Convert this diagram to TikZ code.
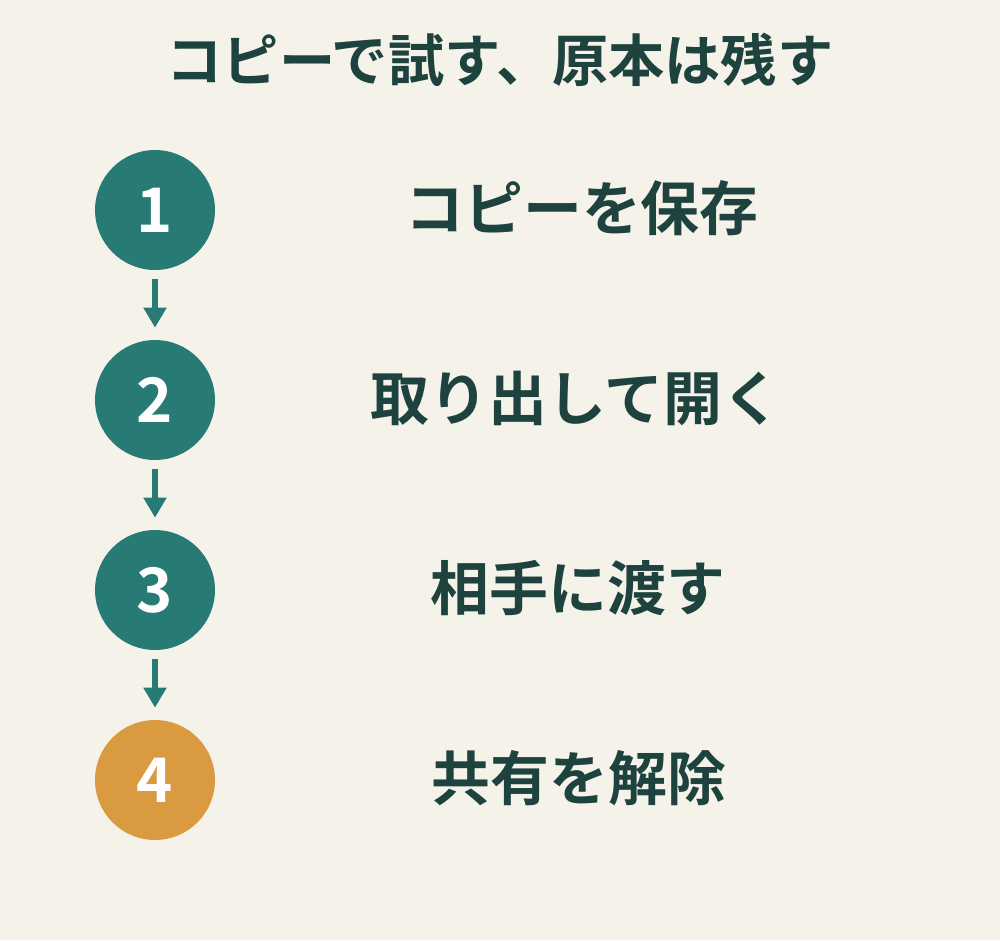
\documentclass[tikz,border=0pt]{standalone}
\usepackage{fontspec}
\usepackage{tikz}
\usepackage{xcolor}
\usetikzlibrary{positioning, arrows.meta}
\newfontfamily\jpfont{Noto Sans CJK JP}[BoldFont={* Bold}]

\definecolor{bgcol}{HTML}{F5F2EA}
\definecolor{tealcol}{HTML}{277B74}
\definecolor{ambercol}{HTML}{D99A40}
\definecolor{inkcol}{HTML}{1E423E}

\tikzset{
  stepdot/.style={circle, fill=tealcol, minimum size=2.4cm, inner sep=0pt, text=white,
    font=\jpfont\bfseries\fontsize{35}{40}\selectfont},
  steptext/.style={text=inkcol, font=\jpfont\bfseries\fontsize{33.5}{38}\selectfont},
  flow/.style={draw=tealcol, line width=0.12cm, -{Triangle[width=0.44cm, length=0.4cm]},
    shorten <=0.18cm, shorten >=0.24cm}
}

\begin{document}
\begin{tikzpicture}[x=0.02cm, y=-0.02cm]
                \fill[bgcol] (0, 0) rectangle (1000, 940);
                \useasboundingbox (0, 0) rectangle (1000, 940);

                \node[text=inkcol, font=\jpfont\bfseries\fontsize{32}{36}\selectfont] (title) at (500, 60) {コピーで試す、原本は残す};

                \node[stepdot] (s1) at (155, 210) {1};
                \node[stepdot] (s2) at (155, 400) {2};
                \node[stepdot] (s3) at (155, 590) {3};
                \node[stepdot, fill=ambercol] (s4) at (155, 780) {4};

                \node[steptext] (t1) at (582, 208) {コピーを保存};
                \node[steptext] (t2) at (576, 398) {取り出して開く};
                \node[steptext] (t3) at (578, 588) {相手に渡す};
                \node[steptext] (t4) at (579, 778) {共有を解除};

                \draw[flow] (s1) -- (s2);
                \draw[flow] (s2) -- (s3);
                \draw[flow] (s3) -- (s4);
            \end{tikzpicture}
\end{document}
